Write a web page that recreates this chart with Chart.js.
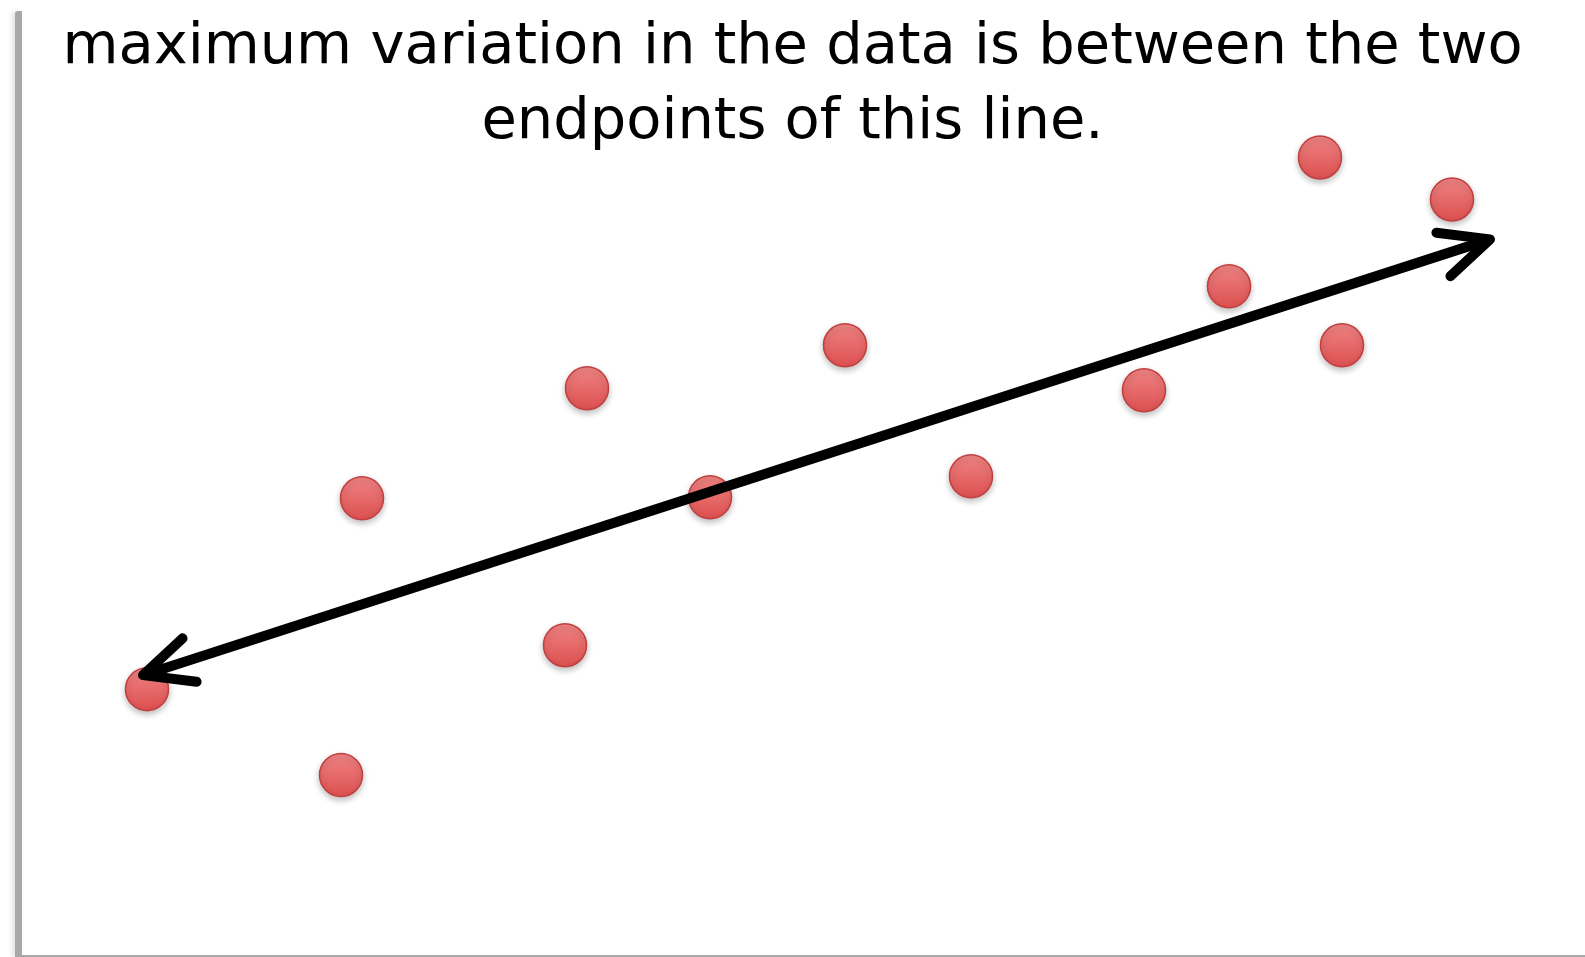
<!DOCTYPE html>
<html>
<head>
<meta charset="utf-8">
<script src="https://cdn.jsdelivr.net/npm/chart.js@4.4.0/dist/chart.umd.min.js"></script>
<style>
  html, body { margin: 0; padding: 0; background: #fff; }
  .wrap { position: relative; width: 1585px; height: 957px; overflow: hidden; }
  .bar {
    position: absolute; left: 15px; top: 11px; width: 7px; height: 946px;
    background: #a8a8a8; border-top-left-radius: 3px;
    box-shadow: -3px 0 5px rgba(0,0,0,0.12);
  }
  .base { position: absolute; left: 22px; top: 955px; width: 1563px; height: 2px; background: #a8a8a8; }
  #plot { position: absolute; left: 0; top: 0; }
</style>
</head>
<body>
<div class="wrap">
  <div class="bar"></div>
  <div class="base"></div>
  <canvas id="plot" width="1585" height="957"></canvas>
</div>
<script>
const titleLines = ['maximum variation in the data is between the two', 'endpoints of this line.']

// data points (arbitrary units)
const xs = [1.47, 3.41, 3.62, 5.65, 5.87, 7.10, 8.45, 9.71, 11.44, 12.29, 13.20, 13.42, 14.52]
const ys = [2.68, 1.82, 4.59, 3.12, 5.69, 4.60, 6.12, 4.81, 5.67, 6.71, 8.00, 6.12, 7.58]

// direction of maximum variation: tail -> head
const arrowX = [1.43, 14.90]
const arrowY = [2.82, 7.18]

const points = xs.map((x, i) => ({ x: x, y: ys[i] }))
const arrow = arrowX.map((x, i) => ({ x: x, y: arrowY[i] }))

const dotFill = (c) => {
    const chart = c.chart
    if (!chart.chartArea || !c.raw) return '#e45c5c'
    const y = chart.scales.y.getPixelForValue(c.raw.y)
    const g = chart.ctx.createLinearGradient(0, y - 22, 0, y + 22)
    g.addColorStop(0, '#f08484')
    g.addColorStop(1, '#dc4f4f')
    return g
}

// open chevron heads on both ends of the arrow line
const arrowHeads = {
    id: 'arrowHeads',
    afterDatasetsDraw(chart) {
        const p = chart.getDatasetMeta(0).data
        if (p.length < 2) return
        const ctx = chart.ctx
        const head = (tip, from) => {
            const a = Math.atan2(from.y - tip.y, from.x - tip.x)
            const len = 54, spread = 25 * Math.PI / 180
            ctx.beginPath()
            ctx.moveTo(tip.x + len * Math.cos(a - spread), tip.y + len * Math.sin(a - spread))
            ctx.lineTo(tip.x, tip.y)
            ctx.lineTo(tip.x + len * Math.cos(a + spread), tip.y + len * Math.sin(a + spread))
            ctx.stroke()
        }
        ctx.save()
        ctx.strokeStyle = '#000'
        ctx.lineWidth = 10
        ctx.lineCap = 'round'
        ctx.lineJoin = 'round'
        head(p[0], p[1])
        head(p[1], p[0])
        ctx.restore()
    }
}

// soft drop shadow under the dots
const dotShadow = {
    id: 'dotShadow',
    beforeDatasetDraw(chart, args) {
        if (args.index !== 1) return
        const ctx = chart.ctx
        ctx.save()
        ctx.shadowColor = 'rgba(0,0,0,0.25)'
        ctx.shadowBlur = 6
        ctx.shadowOffsetY = 3
    },
    afterDatasetDraw(chart, args) {
        if (args.index !== 1) return
        chart.ctx.restore()
    }
}

const ctx = document.getElementById('plot').getContext('2d')
const chart = new Chart(ctx, {
    type: 'scatter',
    plugins: [dotShadow, arrowHeads],
    data: {
        datasets: [{
            label: 'direction',
            data: arrow,
            showLine: true,
            borderColor: '#000',
            borderWidth: 10,
            pointRadius: 0,
            clip: false
        }, {
            label: 'data',
            data: points,
            pointRadius: 21.5,
            pointBorderWidth: 1.5,
            pointBorderColor: '#c23f3f',
            pointBackgroundColor: dotFill,
            clip: false
        }]
    },
    options: {
        responsive: false,
        animation: false,
        layout: { padding: 0, autoPadding: false },
        scales: {
            x: { type: 'linear', display: false, min: 0, max: 15.85 },
            y: { type: 'linear', display: false, min: 0, max: 9.57 }
        },
        plugins: {
            legend: { display: false },
            tooltip: { enabled: false },
            title: {
                display: true,
                text: titleLines,
                color: '#000',
                font: { family: 'DejaVu Sans', size: 57.5, weight: 'normal', lineHeight: 1.3 },
                padding: { top: 11, bottom: -160 }
            }
        }
    }
})
</script>
</body>
</html>
